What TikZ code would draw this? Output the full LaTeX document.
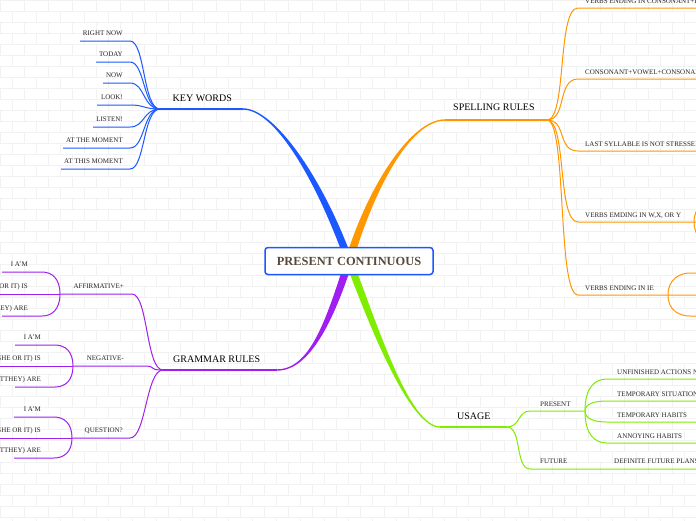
\documentclass[tikz,border=0pt]{standalone}
\usepackage{fontspec}
\setmainfont{Liberation Serif}
\usetikzlibrary{calc}
\definecolor{kwblue}{RGB}{28,88,255}
\definecolor{sporange}{RGB}{255,152,0}
\definecolor{grpurple}{RGB}{160,30,240}
\definecolor{usgreen}{RGB}{128,236,0}
\definecolor{titlebrown}{RGB}{88,74,58}
\tikzset{
  leaf/.style={font=\fontsize{7}{8}\selectfont, text=black!85, inner sep=0pt},
  mainlabel/.style={font=\fontsize{10}{12}\selectfont, text=black, inner sep=0pt},
  twig/.style={line width=1pt},
  bough/.style={line width=1.3pt},
  brick/.style={draw=black!5, line width=0.5pt},
  centerbox/.style={draw=kwblue, line width=1.5pt, fill=white, rounded corners=3pt,
    minimum width=168pt, minimum height=27pt, inner sep=0pt,
    font=\bfseries\fontsize{12.4}{14}\selectfont, text=titlebrown}
}
% tapered branch: colour, start, control1, control2, end, signed half width at end
\newcommand\taperfill[6]{%
  \fill[#1] ($#2+(0,-0.7)$) .. controls ($#3+(0,-0.7)$) and ($#4+(#6,0)$) .. ($#5+(#6,0)$)
    -- ($#5-(#6,0)$) .. controls ($#4-(#6,0)$) and ($#3+(0,0.7)$) .. ($#2+(0,0.7)$) -- cycle;}
\begin{document}
\begin{tikzpicture}[x=1pt,y=-1pt]
\useasboundingbox (0,0) rectangle (696,520);
\fill[white] (0,0) rectangle (696,520);
\foreach \r in {0,...,47}{
  \draw[brick] (0,\r*11) -- (696,\r*11);
  \foreach \c in {0,...,29}{
    \draw[brick] ({\c*24+mod(\r,2)*12},\r*11) -- ++(0,11);
  }
}
\clip (0,0) rectangle (696,520);

\coordinate (ctr) at (349,261);
% ---------------- main branches
\coordinate (kwJ) at (243,109);
\coordinate (kwH) at (160,109);
\coordinate (spJ) at (445,120);
\coordinate (spH) at (547,120);
\coordinate (grJ) at (277,370);
\coordinate (grH) at (163,370);
\coordinate (usJ) at (440,427);
\coordinate (usH) at (507,427);

\taperfill{kwblue}{(kwJ)}{(275,109)}{(320,180)}{(ctr)}{4}
\taperfill{sporange}{(spJ)}{(410,120)}{(370,190)}{(ctr)}{-4}
\taperfill{grpurple}{(grJ)}{(310,370)}{(330,320)}{(ctr)}{-4}
\taperfill{usgreen}{(usJ)}{(410,427)}{(375,330)}{(ctr)}{4}

\draw[bough,kwblue] (kwH) -- (kwJ);
\draw[bough,sporange] (spJ) -- (spH);
\draw[bough,grpurple] (grH) -- (grJ);
\draw[bough,usgreen] (usJ) -- (usH);

\node[mainlabel,anchor=base west] (kwLabel) at (172.5,101) {KEY WORDS};
\node[mainlabel,anchor=base west] (spLabel) at (453,110.5) {SPELLING RULES};
\node[mainlabel,anchor=base west] (grLabel) at (173,362) {GRAMMAR RULES};
\node[mainlabel,anchor=base west] (usLabel) at (457,419) {USAGE};

% ---------------- key words
\foreach \y/\xs/\t [count=\i] in {41/80/RIGHT NOW, 62/96/TODAY, 83/103/NOW, 105/97/LOOK!,
    127/93/LISTEN!, 148/63/AT THE MOMENT, 169/61/AT THIS MOMENT}{
  \coordinate (kwA\i) at (\xs,\y);
  \coordinate (kwB\i) at (130,\y);
  \draw[twig,kwblue] (kwA\i) -- (kwB\i) .. controls +(15,0) and +(-17,0) .. (kwH);
  \node[leaf,anchor=base east] (kwT\i) at (123,\y-5.5) {\t};
}

% ---------------- spelling rules
\foreach \y/\t [count=\i] in {8/VERBS ENDING IN CONSONANT+L, 79/CONSONANT+VOWEL+CONSONANT,
    151/LAST SYLLABLE IS NOT STRESSED, 222/{VERBS EMDING IN W,X, OR Y}, 295/VERBS ENDING IN IE}{
  \coordinate (spA\i) at (578,\y);
  \coordinate (spB\i) at (705,\y);
  \draw[twig,sporange] (spH) .. controls +(20,0) and +(-21,0) .. (spA\i) -- (spB\i);
  \node[leaf,anchor=base west] (spT\i) at (585,\y-5) {\t};
}
\coordinate (spIEh) at (668,295);
\coordinate (spIEt) at (690,273);
\coordinate (spIEb) at (690,316);
\draw[twig,sporange] (spIEh) .. controls +(0,-16) and +(-10,0) .. (spIEt) -- ++(15,0);
\draw[twig,sporange] (spIEh) .. controls +(0,16) and +(-10,0) .. (spIEb) -- ++(15,0);
\coordinate (spWh) at (694,222);
\coordinate (spWt) at (716,200);
\coordinate (spWb) at (716,245);
\draw[twig,sporange] (spWh) .. controls +(0,-16) and +(-10,0) .. (spWt);
\draw[twig,sporange] (spWh) .. controls +(0,16) and +(-10,0) .. (spWb);

% ---------------- grammar rules
\foreach \y/\hx/\ex/\tx/\t/\ty/\my/\by/\cx [count=\i] in
   {294/60/132/124/AFFIRMATIVE+/272/294/316/28,
    366/73/143/124/NEGATIVE-/345/366/387/41,
    438/72/130/123/QUESTION?/417/438/458/41}{
  \coordinate (grK\i) at (\hx,\y);
  \coordinate (grE\i) at (\ex,\y);
  \draw[twig,grpurple] (grK\i) -- (grE\i) .. controls +(16,0) and +(-17,0) .. (grH);
  \node[leaf,anchor=base east] (grT\i) at (\tx,\y-5.5) {\t};
  \coordinate (grKt\i) at (\hx-18,\ty);
  \coordinate (grKb\i) at (\hx-18,\by);
  \draw[twig,grpurple] (grK\i) .. controls +(0,{(\ty-\my)*0.7}) and +(10,0) .. (grKt\i) -- ++(-40,0);
  \draw[twig,grpurple] (grK\i) -- ++(-80,0);
  \draw[twig,grpurple] (grK\i) .. controls +(0,{(\by-\my)*0.7}) and +(10,0) .. (grKb\i) -- ++(-40,0);
  \node[leaf,anchor=base east] (grS\i) at (\cx,\ty-6) {I A'M};
  \node[leaf,anchor=base east] (grM\i) at (\cx,\my-6) {(HE, SHE OR IT) IS};
  \node[leaf,anchor=base east] (grP\i) at (\cx,\by-6) {(YOU, WE, TTHEY) ARE};
}

% ---------------- usage
\coordinate (prA) at (530,411);
\coordinate (prH) at (585,411);
\coordinate (fuA) at (530,469);
\coordinate (fuB) at (705,469);
\draw[twig,usgreen] (usH) .. controls +(13,0) and +(-12,0) .. (prA) -- (prH);
\draw[twig,usgreen] (usH) .. controls +(15,0) and +(-15,0) .. (fuA) -- (fuB);
\node[leaf,anchor=base west] (prT) at (540,406) {PRESENT};
\node[leaf,anchor=base west] (fuT) at (540,463.7) {FUTURE};
\node[leaf,anchor=base west] (fuL) at (614,463.7) {DEFINITE FUTURE PLANS};
\foreach \y/\t [count=\i] in {379/UNFINISHED ACTIONS NOW, 401/TEMPORARY SITUATIONS,
    422/TEMPORARY HABITS, 443/ANNOYING HABITS}{
  \coordinate (prC\i) at (607,\y);
  \draw[twig,usgreen] (prH) .. controls +(0,{(\y-411)*0.75}) and +(-12,0) .. (prC\i) -- ++(100,0);
  \node[leaf,anchor=base west] (prT\i) at (617,\y-5) {\t};
}

% ---------------- centre
\node[centerbox] (centre) at (ctr) {PRESENT CONTINUOUS};
\end{tikzpicture}
\end{document}
